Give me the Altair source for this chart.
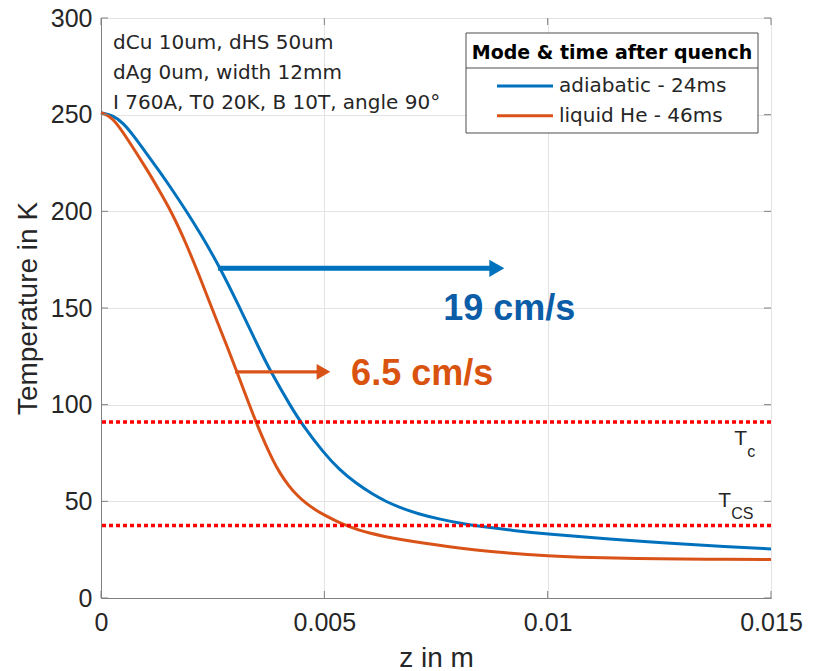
import altair as alt
import pandas as pd

# ---------------- data ----------------
series_names = ["adiabatic - 24ms", "liquid He - 46ms"]

z_adiabatic_mm = [0, 0.25, 0.5, 0.75, 1.0, 1.3, 1.6, 1.9, 2.24, 2.65, 3.09, 3.53, 3.8, 4.25, 4.51,
                  4.97, 5.35, 5.7, 6.09, 6.39, 6.69, 7.1, 7.58, 8.0, 8.57, 9.2, 10.0, 11.3, 12.67,
                  14.0, 15.0]
T_adiabatic = [251, 249.8, 245.8, 238.5, 230.5, 221, 211, 200.5, 188, 171.5, 151, 129.5, 117, 99,
               89.5, 75.5, 66, 59.5, 53.5, 49.8, 46.8, 43.5, 40.8, 38.8, 36.8, 35.0, 33.0, 30.6,
               28.4, 26.6, 25.4]

z_liquid_mm = [0, 0.25, 0.58, 1.06, 1.3, 1.58, 1.88, 2.2, 2.48, 2.86, 3.02, 3.32, 3.5, 3.7, 3.85,
               4.0, 4.2, 4.4, 4.6, 4.8, 5.0, 5.25, 5.49, 5.75, 6.0, 6.35, 6.69, 7.2, 7.8, 8.4, 9.0,
               10.0, 11.0, 12.0, 13.0, 14.0, 15.0]
T_liquid = [251, 249, 238, 220.5, 210.9, 199.6, 184.8, 166.8, 150, 128, 118.3, 100, 89.3, 78.5, 71.2,
            64.8, 58, 52.8, 48.8, 45.6, 42.9, 40, 37.5, 35.3, 33.6, 31.8, 30.3, 28.4, 26.5, 24.8,
            23.4, 21.8, 20.9, 20.4, 20.15, 20.0, 19.9]

threshold_T = [91, 37.5]
threshold_sub = ["c", "CS"]
threshold_label_z_mm = [14.18, 13.82]
threshold_label_T = [79.2, 47.1]

arrow_start_mm = [2.62, 3.0]
arrow_tip_mm = [9.04, 5.16]
arrow_T = [170.5, 117]
speed_labels = ["19 cm/s", "6.5 cm/s"]
speed_label_z_mm = [9.14, 7.19]
speed_label_T = [144, 110.2]

info_lines = ["dCu 10um, dHS 50um", "dAg 0um, width 12mm", "I 760A, T0 20K, B 10T, angle 90°"]
legend_title = "Mode & time after quench"

x_ticks = [0, 0.005, 0.01, 0.015]
x_tick_labels = ["0", "0.005", "0.01", "0.015"]
y_ticks = [0, 50, 100, 150, 200, 250, 300]

# ---------------- styles ----------------
series_colors = ["#0072BD", "#D95319"]
speed_text_colors = ["#0B5DA8", "#D9530F"]
arrow_widths = [5, 3.3]
arrow_head_sizes = [300, 250]
AX = "#808080"
TXT = "#262626"
W, H = 670, 580

# label text for each tick value (looked up from x_tick_labels)
label_expr = "".join(
    f"datum.value < {x_ticks[i] + 0.0025} ? '{x_tick_labels[i]}' : " for i in range(len(x_ticks) - 1)
) + f"'{x_tick_labels[-1]}'"

xs = alt.Scale(domain=[0, 0.015], nice=False)
ys = alt.Scale(domain=[0, 300], nice=False)
X_AX = alt.Axis(values=x_ticks, labelExpr=label_expr, title="z in m", grid=True, ticks=False,
                labelPadding=12, titlePadding=9, labelFlush=False)
Y_AX = alt.Axis(values=y_ticks, title="Temperature in K", grid=True, ticks=False,
                labelPadding=9, titlePadding=8)


def X(field):
    return alt.X(field, scale=xs, axis=X_AX)


def Y(field):
    return alt.Y(field, scale=ys, axis=Y_AX)


def mm(v):
    return [a / 1000.0 for a in v]


df_a = pd.DataFrame({"z": mm(z_adiabatic_mm), "T": T_adiabatic})
df_l = pd.DataFrame({"z": mm(z_liquid_mm), "T": T_liquid})

line_a = alt.Chart(df_a).mark_line(strokeWidth=3, interpolate="basis", color=series_colors[0]).encode(
    x=X("z:Q"), y=Y("T:Q"))
line_l = alt.Chart(df_l).mark_line(strokeWidth=3, interpolate="basis", color=series_colors[1]).encode(
    x=X("z:Q"), y=Y("T:Q"))

# inward ticks (box style)
ytick_df = pd.DataFrame({"T": y_ticks})
xtick_df = pd.DataFrame({"z": x_ticks})
ticks = [
    alt.Chart(ytick_df).mark_rule(color=AX).encode(y=Y("T:Q"), x=alt.value(0), x2=alt.value(7)),
    alt.Chart(ytick_df).mark_rule(color=AX).encode(y=Y("T:Q"), x=alt.value(W), x2=alt.value(W - 7)),
    alt.Chart(xtick_df).mark_rule(color=AX).encode(x=X("z:Q"), y=alt.value(H), y2=alt.value(H - 7)),
    alt.Chart(xtick_df).mark_rule(color=AX).encode(x=X("z:Q"), y=alt.value(0), y2=alt.value(7)),
]

thr_df = pd.DataFrame({"T": threshold_T})
thr = alt.Chart(thr_df).mark_rule(color="#FF0000", strokeWidth=3.5, strokeDash=[4, 3]).encode(y=Y("T:Q"))

thr_lab_df = pd.DataFrame({"z": mm(threshold_label_z_mm), "T": threshold_label_T, "sub": threshold_sub})
thr_T = alt.Chart(thr_lab_df).mark_text(text="T", align="left", baseline="alphabetic", font="Liberation Sans",
                                        fontSize=21, color=TXT).encode(x=X("z:Q"), y=Y("T:Q"))
thr_sub = alt.Chart(thr_lab_df).mark_text(align="left", baseline="alphabetic", font="Liberation Sans",
                                          fontSize=16, color=TXT, dx=13, dy=12).encode(
    x=X("z:Q"), y=Y("T:Q"), text="sub:N")

arrows = []
for i in range(2):
    adf = pd.DataFrame({"z1": [arrow_start_mm[i] / 1000], "z2": [(arrow_tip_mm[i] - 0.2) / 1000],
                        "zt": [arrow_tip_mm[i] / 1000], "T": [arrow_T[i]]})
    arrows.append(alt.Chart(adf).mark_rule(color=series_colors[i], strokeWidth=arrow_widths[i]).encode(
        x=X("z1:Q"), x2="z2:Q", y=Y("T:Q")))
    arrows.append(alt.Chart(adf).mark_point(shape="triangle-right", filled=True, opacity=1,
                                            color=series_colors[i], size=arrow_head_sizes[i],
                                            xOffset=-8).encode(x=X("zt:Q"), y=Y("T:Q")))
    sdf = pd.DataFrame({"z": [speed_label_z_mm[i] / 1000], "T": [speed_label_T[i]], "t": [speed_labels[i]]})
    arrows.append(alt.Chart(sdf).mark_text(font="Liberation Sans", fontSize=36, fontWeight="bold",
                                           align="center", baseline="alphabetic",
                                           color=speed_text_colors[i]).encode(
        x=X("z:Q"), y=Y("T:Q"), text="t:N"))

one = pd.DataFrame({"a": [0]})
info = alt.Chart(one).mark_text(text=info_lines, lineHeight=30, align="left", baseline="alphabetic",
                                font="DejaVu Sans", fontSize=20, color=TXT).encode(
    x=alt.value(12), y=alt.value(31))

# legend box
LX0, LX1, LY0, LY1 = 365, 657, 15, 115
leg = [
    alt.Chart(one).mark_rect(fill="white", stroke="#4d4d4d", strokeWidth=1).encode(
        x=alt.value(LX0), x2=alt.value(LX1), y=alt.value(LY0), y2=alt.value(LY1)),
    alt.Chart(one).mark_rule(color="#4d4d4d", strokeWidth=1).encode(
        x=alt.value(LX0), x2=alt.value(LX1), y=alt.value(50)),
    alt.Chart(one).mark_text(text=legend_title, font="DejaVu Sans", fontSize=19, fontWeight="bold",
                             align="center", baseline="alphabetic", color="black").encode(
        x=alt.value((LX0 + LX1) / 2), y=alt.value(40.5)),
]
for i, name in enumerate(series_names):
    yy = 68 + 29.7 * i
    leg.append(alt.Chart(one).mark_rule(color=series_colors[i], strokeWidth=3).encode(
        x=alt.value(396), x2=alt.value(452), y=alt.value(yy)))
    leg.append(alt.Chart(one).mark_text(text=name, font="DejaVu Sans", fontSize=20, align="left",
                                        baseline="middle", color=TXT).encode(
        x=alt.value(458), y=alt.value(yy)))

chart = alt.layer(line_a, line_l, thr, *ticks, thr_T, thr_sub, *arrows, info, *leg).properties(
    width=W, height=H,
    autosize=alt.AutoSizeParams(type="none"),
    padding={"left": 101, "top": 18, "right": 46, "bottom": 73},
    background="white",
).configure_view(stroke=AX, strokeWidth=1).configure_axis(
    labelFont="Liberation Sans", labelFontSize=25, labelColor=TXT,
    titleFont="Liberation Sans", titleFontSize=28, titleFontWeight="normal", titleColor=TXT,
    domainColor=AX, domainWidth=1, gridColor="#E3E3E3", gridWidth=1,
)

chart.save("out.html", embed_options={"renderer": "svg", "actions": False})
